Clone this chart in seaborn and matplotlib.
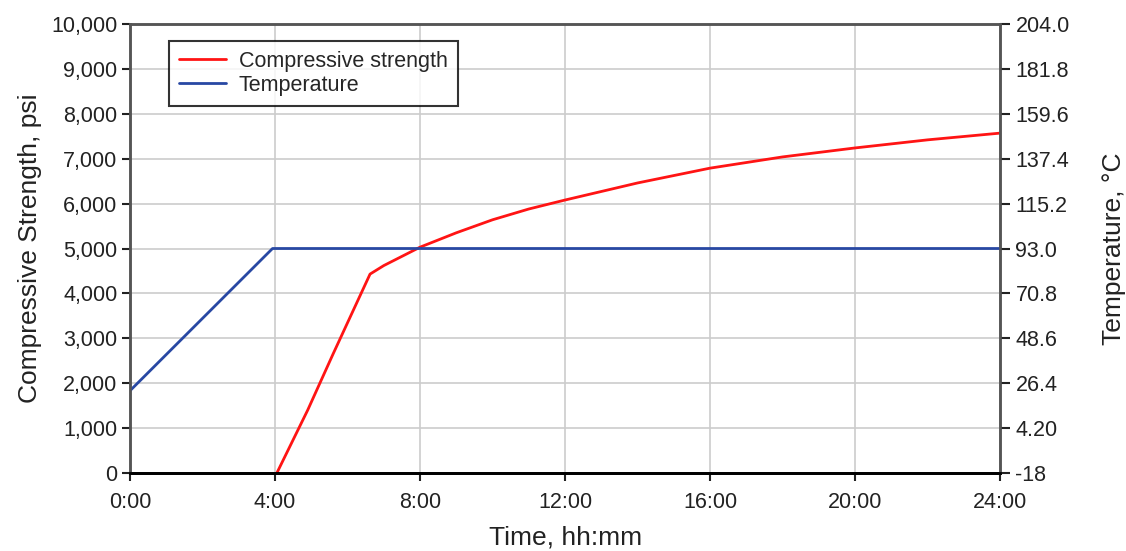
import matplotlib
matplotlib.use("Agg")
import matplotlib.pyplot as plt
import pandas as pd
import seaborn as sns

# --- data -------------------------------------------------------------------
strength_hours = [4.05, 4.9, 5.6, 6.62, 7.0, 8.0, 9.0, 10.0, 11.0, 12.0,
                  14.0, 16.0, 18.0, 20.0, 22.0, 24.0]
strength_psi = [0, 1400, 2650, 4430, 4620, 5030, 5350, 5640, 5880, 6080,
                6460, 6790, 7040, 7240, 7420, 7570]

temp_hours = [0.0, 3.93, 24.0]
temp_c = [22.7, 93.0, 93.0]

x_ticks = [0, 4, 8, 12, 16, 20, 24]
x_labels = ["0:00", "4:00", "8:00", "12:00", "16:00", "20:00", "24:00"]
psi_ticks = list(range(0, 10001, 1000))
temp_ticks = [-18, 4.2, 26.4, 48.6, 70.8, 93.0, 115.2, 137.4, 159.6, 181.8, 204.0]
temp_labels = ["-18", "4.20", "26.4", "48.6", "70.8", "93.0", "115.2",
               "137.4", "159.6", "181.8", "204.0"]

strength = pd.DataFrame({"hours": strength_hours, "psi": strength_psi})
temp = pd.DataFrame({"hours": temp_hours, "temp": temp_c})

# --- plot --------------------------------------------------------------------
sns.set_style("white")
plt.rcParams["font.family"] = ["Liberation Sans", "DejaVu Sans"]

fig = plt.figure(figsize=(11.26, 5.51), dpi=100)
ax = fig.add_axes([0.1155, 0.1416, 0.7727, 0.8148])
ax2 = ax.twinx()

sns.lineplot(data=strength, x="hours", y="psi", color="#ff1414", linewidth=2,
             ax=ax, label="Compressive strength", legend=False)
sns.lineplot(data=temp, x="hours", y="temp", color="#2848a3", linewidth=2,
             ax=ax2, label="Temperature", legend=False)

ax.set_xlim(0, 24)
ax.set_ylim(0, 10000)
ax2.set_ylim(-18, 204)

ax.set_xticks(x_ticks)
ax.set_xticklabels(x_labels)
ax.set_yticks(psi_ticks)
ax.set_yticklabels([f"{v:,}" for v in psi_ticks])
ax2.set_yticks(temp_ticks)
ax2.set_yticklabels(temp_labels)

ax.grid(True, color="#cccccc", linewidth=1.2)
ax.set_axisbelow(True)

for a in (ax, ax2):
    for side in ("left", "right", "top"):
        a.spines[side].set_color("#555555")
        a.spines[side].set_linewidth(1.8)
    a.spines["bottom"].set_color("black")
    a.spines["bottom"].set_linewidth(2)

ax.tick_params(axis="y", labelsize=15.5, colors="#222222", length=6, width=1.5,
               direction="out", left=True, pad=3)
ax.tick_params(axis="x", labelsize=15.5, colors="#222222", length=6, width=1.5,
               direction="out", bottom=True, pad=8)
ax2.tick_params(axis="y", labelsize=15.5, colors="#222222", length=7, width=1.5,
                direction="out", right=True, pad=4)

ax.set_xlabel("Time, hh:mm", fontsize=19, color="#222222", labelpad=9)
ax.set_ylabel("Compressive Strength, psi", fontsize=19, color="#222222", labelpad=7)
ax2.set_ylabel("Temperature, °C", fontsize=19, color="#222222", labelpad=23)

handles = ax.get_lines()[:1] + ax2.get_lines()[:1]
leg = ax.legend(handles, [h.get_label() for h in handles],
                loc="upper left", bbox_to_anchor=(0.0448, 0.962),
                borderaxespad=0, fontsize=15.5, frameon=True, fancybox=False,
                handlelength=2.2, handletextpad=0.6, borderpad=0.45,
                labelspacing=0.15)
leg.get_frame().set_edgecolor("black")
leg.get_frame().set_linewidth(1.5)

fig.savefig("out.png", dpi=100)
